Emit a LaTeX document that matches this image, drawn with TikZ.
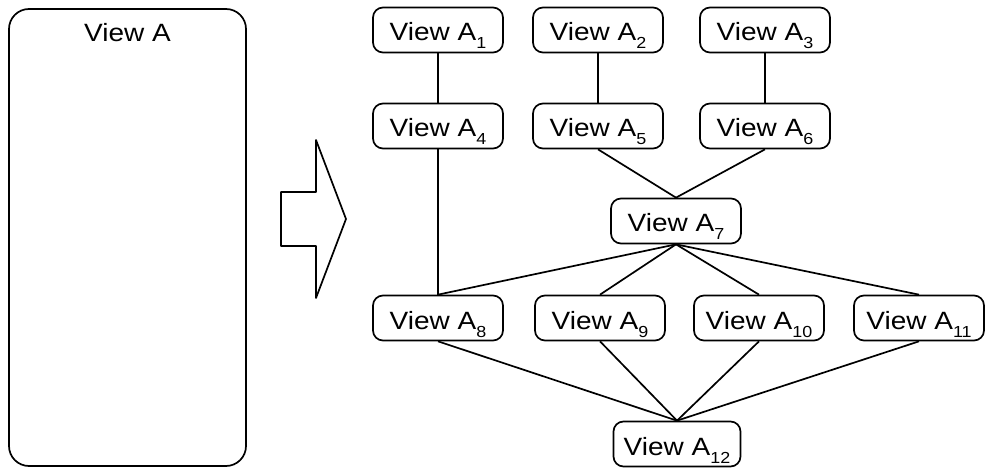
\documentclass[tikz,border=0pt]{standalone}
\usepackage{fontspec}
\setmainfont{Liberation Sans}[FakeStretch=1.12]
\usetikzlibrary{calc}
% subscript index of a view name
\newcommand{\vidx}[1]{\raisebox{-8pt}{\fontsize{16}{16}\selectfont #1}}
\tikzset{
  lw/.style={line width=1.7pt, line join=round},
  view/.style={lw, draw, rounded corners=10pt, minimum width=130pt,
    minimum height=45pt, inner sep=2pt, text height=22pt, text depth=0pt,
    font=\fontsize{25}{25}\selectfont},
  link/.style={lw},
}
\begin{document}
\begin{tikzpicture}[x=1pt,y=-1pt]
\useasboundingbox (0,0) rectangle (985,470);

% the whole view
\node[lw, draw, rounded corners=20pt, minimum width=237pt, minimum height=457pt,
  inner sep=0pt] (A) at (127.5,237.5) {};
\node[anchor=base, font=\fontsize{25}{25}\selectfont, inner sep=0pt] (Alabel)
  at ($(A.north)+(0,33)$) {View A};

% block arrow
\draw[lw] (281,192) coordinate (s1) -- (316,192) -- (316,140) -- (346,219)
  -- (316,298) -- (316,246) -- (281,246) -- cycle;

% partial views
\node[view] (A1)  at (438,30)  {View A\vidx{1}};
\node[view] (A2)  at (598,30)  {View A\vidx{2}};
\node[view] (A3)  at (765,30)  {View A\vidx{3}};
\node[view] (A4)  at (438,126) {View A\vidx{4}};
\node[view] (A5)  at (598,126) {View A\vidx{5}};
\node[view] (A6)  at (765,126) {View A\vidx{6}};
\node[view] (A7)  at (676,221) {View A\vidx{7}};
\node[view] (A8)  at (438,318) {View A\vidx{8}};
\node[view] (A9)  at (600,318) {View A\vidx{9}};
\node[view] (A10) at (759,318) {View A\vidx{10}};
\node[view] (A11) at (919,318) {View A\vidx{11}};
\node[view, minimum width=127pt] (A12) at (677,444) {View A\vidx{12}};

% connections
\draw[link] (A1.south) -- (A4.north);
\draw[link] (A2.south) -- (A5.north);
\draw[link] (A3.south) -- (A6.north);
\draw[link] (A4.south) -- (A8.north);
\draw[link] (A5.south) -- (A7.north);
\draw[link] (A6.south) -- (A7.north);
\foreach \n in {A8,A9,A10,A11}{
  \draw[link] (A7.south) -- (\n.north);
  \draw[link] (\n.south) -- (A12.north);
}
\end{tikzpicture}
\end{document}
